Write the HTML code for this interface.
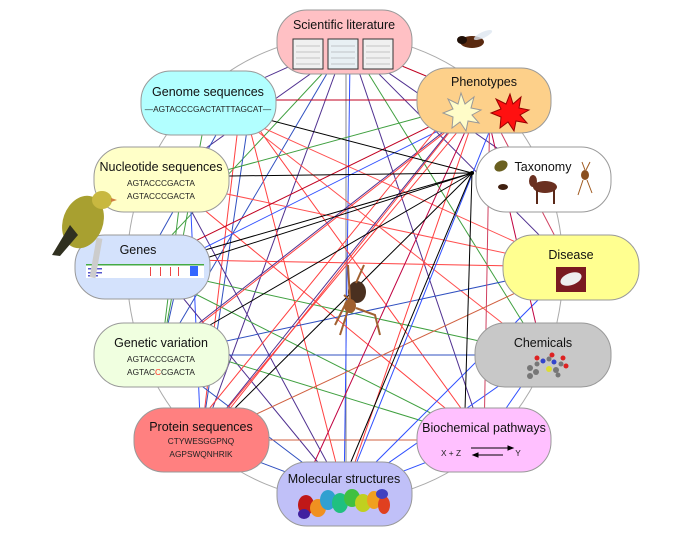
<!DOCTYPE html>
<html><head><meta charset="utf-8"><style>
html,body{margin:0;padding:0;background:#fff;}
svg{display:block;font-family:"Liberation Sans",sans-serif;}
</style></head><body>
<svg width="691" height="546" viewBox="0 0 691 546" xmlns="http://www.w3.org/2000/svg">
<ellipse cx="345" cy="268" rx="218" ry="232" fill="none" stroke="#aaa" stroke-width="1"/>
<g stroke-width="1" fill="none">
<line x1="344" y1="42" x2="208" y2="103" stroke="#503090"/>
<line x1="344" y1="42" x2="484" y2="100" stroke="#c00020"/>
<line x1="330" y1="60" x2="161" y2="180" stroke="#503090"/>
<line x1="335" y1="60" x2="142" y2="267" stroke="#40a040"/>
<line x1="335" y1="60" x2="161" y2="355" stroke="#3050c0"/>
<line x1="340" y1="60" x2="201" y2="440" stroke="#503090"/>
<line x1="346" y1="42" x2="346" y2="494" stroke="#888"/>
<line x1="355" y1="60" x2="484" y2="440" stroke="#503090"/>
<line x1="360" y1="60" x2="543" y2="355" stroke="#40a040"/>
<line x1="365" y1="60" x2="571" y2="267" stroke="#503090"/>
<line x1="370" y1="60" x2="543" y2="180" stroke="#503090"/>
<line x1="350" y1="60" x2="344" y2="494" stroke="#3050ff"/>
<line x1="208" y1="100" x2="484" y2="100" stroke="#c00020"/>
<line x1="208" y1="103" x2="571" y2="267" stroke="#ff5050"/>
<line x1="230" y1="110" x2="543" y2="355" stroke="#ff5050"/>
<line x1="245" y1="110" x2="484" y2="440" stroke="#ff4040"/>
<line x1="245" y1="110" x2="344" y2="494" stroke="#ff4040"/>
<line x1="208" y1="103" x2="161" y2="355" stroke="#40a040"/>
<line x1="240" y1="110" x2="201" y2="440" stroke="#ff4040"/>
<line x1="230" y1="110" x2="142" y2="267" stroke="#3050c0"/>
<line x1="250" y1="110" x2="201" y2="440" stroke="#3050c0"/>
<line x1="190" y1="180" x2="484" y2="100" stroke="#40a040"/>
<line x1="161" y1="180" x2="571" y2="267" stroke="#ff5050"/>
<line x1="180" y1="190" x2="484" y2="440" stroke="#ff4040"/>
<line x1="180" y1="190" x2="344" y2="494" stroke="#503090"/>
<line x1="190" y1="190" x2="201" y2="440" stroke="#3050ff"/>
<line x1="180" y1="200" x2="161" y2="355" stroke="#40a040"/>
<line x1="142" y1="267" x2="484" y2="100" stroke="#c00020"/>
<line x1="150" y1="275" x2="490" y2="105" stroke="#3050ff"/>
<line x1="142" y1="267" x2="543" y2="355" stroke="#40a040"/>
<line x1="142" y1="267" x2="484" y2="440" stroke="#40a040"/>
<line x1="160" y1="270" x2="344" y2="494" stroke="#503090"/>
<line x1="180" y1="270" x2="161" y2="355" stroke="#3050c0"/>
<line x1="190" y1="260" x2="571" y2="267" stroke="#ff4040"/>
<line x1="161" y1="355" x2="571" y2="267" stroke="#3050c0"/>
<line x1="161" y1="355" x2="543" y2="355" stroke="#3050c0"/>
<line x1="180" y1="340" x2="480" y2="105" stroke="#ff4040"/>
<line x1="161" y1="355" x2="344" y2="494" stroke="#3050c0"/>
<line x1="175" y1="345" x2="484" y2="440" stroke="#40a040"/>
<line x1="190" y1="330" x2="484" y2="100" stroke="#503090"/>
<line x1="201" y1="440" x2="484" y2="440" stroke="#d06040"/>
<line x1="201" y1="440" x2="571" y2="267" stroke="#d06040"/>
<line x1="201" y1="440" x2="344" y2="494" stroke="#3050c0"/>
<line x1="201" y1="440" x2="470" y2="105" stroke="#503090"/>
<line x1="205" y1="440" x2="475" y2="100" stroke="#ff4040"/>
<line x1="344" y1="494" x2="484" y2="440" stroke="#3050ff"/>
<line x1="344" y1="494" x2="543" y2="355" stroke="#3050ff"/>
<line x1="344" y1="494" x2="571" y2="267" stroke="#3050ff"/>
<line x1="344" y1="494" x2="480" y2="100" stroke="#ff4040"/>
<line x1="344" y1="494" x2="500" y2="105" stroke="#3050ff"/>
<line x1="484" y1="440" x2="490" y2="100" stroke="#d04060"/>
<line x1="484" y1="440" x2="543" y2="355" stroke="#3050ff"/>
<line x1="484" y1="100" x2="543" y2="355" stroke="#c00040"/>
<line x1="484" y1="100" x2="571" y2="267" stroke="#d04060"/>
<line x1="484" y1="100" x2="201" y2="440" stroke="#ff4040"/>
<line x1="460" y1="100" x2="200" y2="420" stroke="#ff4040"/>
<line x1="475" y1="110" x2="300" y2="494" stroke="#c00040"/>
<g stroke="#000">
<line x1="472" y1="173" x2="250" y2="115"/>
<line x1="472" y1="173" x2="229" y2="176"/>
<line x1="472" y1="173" x2="205" y2="250"/>
<line x1="472" y1="173" x2="210" y2="325"/>
<line x1="472" y1="173" x2="235" y2="408"/>
<line x1="472" y1="173" x2="350" y2="464"/>
<line x1="472" y1="173" x2="465" y2="410"/>
<line x1="472" y1="173" x2="200" y2="260"/>
</g>
<circle cx="472" cy="173" r="2" fill="#000"/>
</g>

<g stroke="#999" stroke-width="1">
<rect x="277" y="10" width="135" height="64" rx="30" fill="#ffc0c4"/>
<rect x="417" y="68" width="134" height="65" rx="30" fill="#fdd08a"/>
<rect x="141" y="71" width="135" height="64" rx="30" fill="#b2ffff"/>
<rect x="476" y="147" width="135" height="65" rx="30" fill="#fff"/>
<rect x="94" y="147" width="135" height="65" rx="30" fill="#ffffc8"/>
<rect x="75" y="235" width="135" height="64" rx="30" fill="#d4e2fc"/>
<rect x="503" y="235" width="136" height="65" rx="30" fill="#ffff90"/>
<rect x="94" y="323" width="135" height="64" rx="30" fill="#f0ffe0"/>
<rect x="475" y="323" width="136" height="64" rx="30" fill="#c8c8c8"/>
<rect x="134" y="408" width="135" height="64" rx="30" fill="#ff8080"/>
<rect x="417" y="408" width="134" height="64" rx="30" fill="#ffc0ff"/>
<rect x="277" y="462" width="135" height="64" rx="30" fill="#c0c0f8"/>
</g>

<g font-size="12.5" fill="#111" text-anchor="middle">
<text x="344" y="29">Scientific literature</text>
<text x="484" y="86">Phenotypes</text>
<text x="208" y="96">Genome sequences</text>
<text x="543" y="171">Taxonomy</text>
<text x="161" y="171">Nucleotide sequences</text>
<text x="138" y="254">Genes</text>
<text x="571" y="259">Disease</text>
<text x="161" y="347">Genetic variation</text>
<text x="543" y="347">Chemicals</text>
<text x="201" y="431">Protein sequences</text>
<text x="484" y="432">Biochemical pathways</text>
<text x="344" y="483">Molecular structures</text>
</g>
<g font-size="8.3" fill="#222" text-anchor="middle">
<text x="208" y="112">—AGTACCCGACTATTTAGCAT—</text>
<text x="161" y="186">AGTACCCGACTA</text>
<text x="161" y="199">AGTACCCGACTA</text>
<text x="161" y="362">AGTACCCGACTA</text>
<text x="161" y="375">AGTAC<tspan fill="#ff3020">C</tspan>CGACTA</text>
<text x="201" y="444">CTYWESGGPNQ</text>
<text x="201" y="457">AGPSWQNHRIK</text>
<text x="451" y="456">X + Z</text>
<text x="518" y="456">Y</text>
</g>
<g stroke="#000" stroke-width="1">
<line x1="471" y1="448" x2="508" y2="448"/><polygon points="508,446 508,450 513,448" fill="#000"/>
<line x1="478" y1="455" x2="503" y2="455"/><polygon points="478,453 478,457 473,455" fill="#000"/>
</g>

<g stroke="#333" fill="#f0f0f0">
<rect x="293" y="39" width="30" height="30"/><rect x="328" y="39" width="30" height="30" fill="#e8f0f4"/><rect x="363" y="39" width="30" height="30"/>
</g>
<g stroke="#999" stroke-width="0.6">
<line x1="296" y1="46" x2="320" y2="46"/><line x1="296" y1="52" x2="320" y2="52"/><line x1="296" y1="58" x2="320" y2="58"/><line x1="296" y1="64" x2="320" y2="64"/>
<line x1="331" y1="46" x2="355" y2="46"/><line x1="331" y1="52" x2="355" y2="52"/><line x1="331" y1="58" x2="355" y2="58"/><line x1="331" y1="64" x2="355" y2="64"/>
<line x1="366" y1="46" x2="390" y2="46"/><line x1="366" y1="52" x2="390" y2="52"/><line x1="366" y1="58" x2="390" y2="58"/><line x1="366" y1="64" x2="390" y2="64"/>
</g>
<polygon points="461,93 465,104 474,97 471,108 481,110 472,115 479,123 468,121 466,131 460,122 452,128 453,117 443,113 453,109 448,99 458,104" fill="#fffcc8" stroke="#999"/>
<polygon points="510,94 513,104 521,97 519,108 529,110 520,115 527,123 516,121 514,131 508,122 500,128 501,117 491,113 501,109 496,99 506,104" fill="#ff1010" stroke="#900"/>
<rect x="86" y="264" width="118" height="14" fill="#fff"/>
<rect x="86" y="264" width="118" height="1.5" fill="#4a4"/>
<rect x="190" y="266" width="8" height="10" fill="#36f"/>
<g fill="#e44"><rect x="150" y="267" width="1" height="9"/><rect x="160" y="267" width="1" height="9"/><rect x="170" y="267" width="1" height="9"/><rect x="178" y="267" width="1" height="9"/></g>
<g fill="#55c"><rect x="88" y="268" width="14" height="1.5"/><rect x="88" y="272" width="14" height="1.5"/><rect x="88" y="275" width="10" height="1.5"/></g>
<rect x="556" y="267" width="30" height="25" fill="#7a1a20"/>
<ellipse cx="571" cy="279" rx="11" ry="6" fill="#eee" transform="rotate(-20 571 279)"/>
<g>
<circle cx="530" cy="368" r="3" fill="#777"/><circle cx="536" cy="372" r="3" fill="#777"/><circle cx="530" cy="376" r="3" fill="#777"/><circle cx="537" cy="364" r="2.5" fill="#777"/>
<circle cx="537" cy="358" r="2.5" fill="#d22"/><circle cx="543" cy="361" r="2.5" fill="#34c"/><circle cx="549" cy="359" r="2.5" fill="#777"/><circle cx="552" cy="355" r="2.5" fill="#d22"/>
<circle cx="554" cy="362" r="2.5" fill="#34c"/><circle cx="549" cy="369" r="3" fill="#dd3"/><circle cx="556" cy="370" r="3" fill="#777"/><circle cx="558" cy="375" r="2.5" fill="#777"/>
<circle cx="561" cy="364" r="2.5" fill="#777"/><circle cx="563" cy="358" r="2.5" fill="#d22"/><circle cx="566" cy="366" r="2.5" fill="#d22"/>
</g>
<g>
<ellipse cx="306" cy="505" rx="8" ry="10" fill="#c01818"/><ellipse cx="318" cy="508" rx="8" ry="9" fill="#f09020"/>
<ellipse cx="328" cy="500" rx="8" ry="10" fill="#30a0d0"/><ellipse cx="340" cy="503" rx="8" ry="10" fill="#20c080"/>
<ellipse cx="352" cy="498" rx="8" ry="9" fill="#40c040"/><ellipse cx="363" cy="503" rx="8" ry="9" fill="#c0d020"/>
<ellipse cx="374" cy="500" rx="7" ry="9" fill="#f0a020"/><ellipse cx="384" cy="505" rx="6" ry="9" fill="#e04020"/>
<ellipse cx="382" cy="494" rx="6" ry="5" fill="#4040c0"/><ellipse cx="304" cy="514" rx="6" ry="5" fill="#4020a0"/>
</g>
<ellipse cx="501" cy="166" rx="7" ry="5" fill="#6a6020" transform="rotate(-30 501 166)"/>
<ellipse cx="503" cy="187" rx="5" ry="3" fill="#402010"/>
<ellipse cx="545" cy="187" rx="12" ry="6" fill="#6a3020"/><rect x="536" y="190" width="2" height="14" fill="#5a2818"/><rect x="553" y="190" width="2" height="14" fill="#5a2818"/><ellipse cx="533" cy="181" rx="4" ry="6" fill="#6a3020"/>
<ellipse cx="585" cy="175" rx="4" ry="5" fill="#8a5020"/><path d="M585 170 L582 162 M586 170 L590 162 M583 180 L578 195 M587 180 L592 193" stroke="#a05a20" fill="none"/>
<ellipse cx="472" cy="42" rx="12" ry="6" fill="#5a2a10"/><ellipse cx="462" cy="40" rx="5" ry="4" fill="#201008"/>
<ellipse cx="483" cy="35" rx="10" ry="3" fill="#dde6f0" opacity="0.8" transform="rotate(-25 483 35)"/>
<ellipse cx="83" cy="222" rx="20" ry="27" fill="#a8a030" transform="rotate(20 83 222)"/>
<ellipse cx="102" cy="200" rx="10" ry="9" fill="#c8b840"/>
<path d="M70 225 L52 255 L60 256 L78 235 Z" fill="#303020"/>
<polygon points="111,198 117,200 111,202" fill="#d08040"/>
<rect x="93" y="238" width="6" height="40" fill="#ccc" transform="rotate(10 96 258)"/>
<ellipse cx="357" cy="292" rx="9" ry="11" fill="#4a3020"/>
<ellipse cx="350" cy="306" rx="6" ry="7" fill="#a06030"/>
<path d="M350 300 L348 265 M356 283 L364 265 M345 305 L335 325 M348 310 L340 335 M356 308 L375 315 L380 335 M352 302 L344 295" stroke="#a06030" stroke-width="2" fill="none"/>
</svg>
</body></html>
